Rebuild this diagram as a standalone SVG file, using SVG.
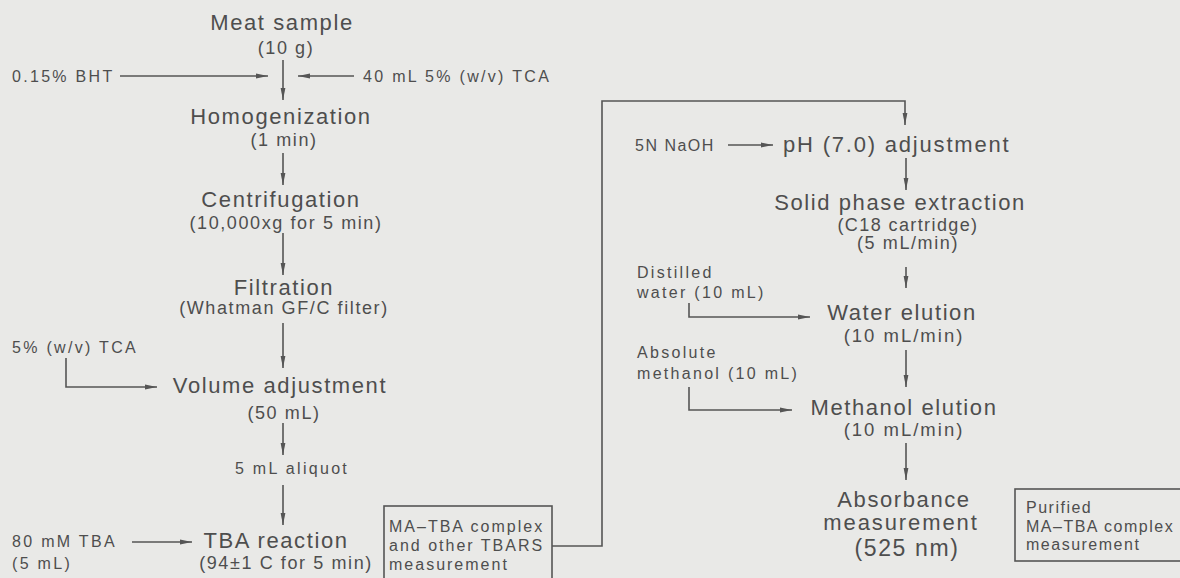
<svg xmlns="http://www.w3.org/2000/svg" width="1180" height="578" viewBox="0 0 1180 578">
<defs>
<marker id="ah" viewBox="0 0 12 6" refX="12" refY="3" markerWidth="12" markerHeight="6" markerUnits="userSpaceOnUse" orient="auto">
<path d="M0,0.6 L12,3 L0,5.4 Z" fill="#555"/>
</marker>
<style>
text{font-family:"Liberation Sans",Arial,sans-serif;fill:#4e4e4e}
.t{font-size:22px;letter-spacing:1.6px;text-anchor:middle}
.s{font-size:18px;letter-spacing:1.6px;text-anchor:middle}
.l{font-size:16px;letter-spacing:2.3px}
.c{fill:none;stroke:#555;stroke-width:1.6}
.a{marker-end:url(#ah)}
.box{fill:none;stroke:#555;stroke-width:1.6}
</style>
</defs>
<rect width="1180" height="578" fill="#e9e9e7"/>
<g id="connectors">
<line class="c a" x1="283" y1="60" x2="283" y2="100"/>
<line class="c a" x1="120" y1="76" x2="268" y2="76"/>
<line class="c a" x1="354" y1="76" x2="298" y2="76"/>
<line class="c a" x1="283" y1="153" x2="283" y2="185"/>
<line class="c a" x1="283" y1="233" x2="283" y2="275"/>
<line class="c a" x1="283" y1="323" x2="283" y2="368"/>
<path class="c a" d="M66,358 V387 H157"/>
<line class="c a" x1="283" y1="423" x2="283" y2="455"/>
<line class="c a" x1="283" y1="485" x2="283" y2="525"/>
<line class="c a" x1="132" y1="542" x2="192" y2="542"/>
<path class="c a" d="M552,546 H602 V101 H905 V125"/>
<line class="c a" x1="728" y1="145" x2="773" y2="145"/>
<line class="c a" x1="906" y1="158" x2="906" y2="190"/>
<line class="c a" x1="906" y1="267" x2="906" y2="288"/>
<path class="c a" d="M689,303 V317 H810"/>
<line class="c a" x1="906" y1="350" x2="906" y2="387"/>
<path class="c a" d="M689,387 V410 H792"/>
<line class="c a" x1="906" y1="443" x2="906" y2="480"/>
</g>
<g id="meat"><text class="t" x="282" y="30">Meat sample</text><text class="s" x="286" y="54">(10 g)</text></g>
<g id="bht"><text class="l" x="12" y="82">0.15% BHT</text></g>
<g id="tca40"><text class="l" x="363" y="82">40 mL 5% (w/v) TCA</text></g>
<g id="homog"><text class="t" x="281" y="124">Homogenization</text><text class="s" x="284" y="146">(1 min)</text></g>
<g id="centri"><text class="t" x="281" y="207">Centrifugation</text><text class="s" x="286" y="229">(10,000xg for 5 min)</text></g>
<g id="filt"><text class="t" x="284" y="295">Filtration</text><text class="s" x="284" y="314">(Whatman GF/C filter)</text></g>
<g id="tca5"><text class="l" x="12" y="353">5% (w/v) TCA</text></g>
<g id="vol"><text class="t" x="280" y="393">Volume adjustment</text><text class="s" x="284" y="419">(50 mL)</text></g>
<g id="aliquot"><text class="l" x="292" y="474" text-anchor="middle">5 mL aliquot</text></g>
<g id="tba80"><text class="l" x="12" y="547">80 mM TBA</text><text class="l" x="12" y="569">(5 mL)</text></g>
<g id="tbar"><text class="t" x="276" y="548">TBA reaction</text><text class="s" x="286" y="569">(94±1 C for 5 min)</text></g>
<g id="boxA"><rect class="box" x="384" y="506" width="168" height="80"/><text class="l" x="389" y="532" style="letter-spacing:2px">MA–TBA complex</text><text class="l" x="389" y="551" style="letter-spacing:2px">and other TBARS</text><text class="l" x="389" y="570" style="letter-spacing:2px">measurement</text></g>
<g id="naoh"><text class="l" x="635" y="151" style="letter-spacing:1.5px">5N NaOH</text></g>
<g id="ph"><text x="783" y="152" style="font-size:22px;letter-spacing:1.8px">pH (7.0) adjustment</text></g>
<g id="spe"><text class="t" x="900" y="210">Solid phase extraction</text><text class="s" x="908" y="231" style="letter-spacing:1.4px">(C18 cartridge)</text><text class="s" x="908" y="249">(5 mL/min)</text></g>
<g id="dw"><text class="l" x="637" y="278">Distilled</text><text class="l" x="637" y="298">water (10 mL)</text></g>
<g id="we"><text class="t" x="902" y="320">Water elution</text><text class="s" x="904" y="342" style="font-size:18.5px;letter-spacing:2px">(10 mL/min)</text></g>
<g id="am"><text class="l" x="637" y="358">Absolute</text><text class="l" x="637" y="379">methanol (10 mL)</text></g>
<g id="me"><text class="t" x="904" y="415">Methanol elution</text><text class="s" x="904" y="436" style="font-size:18.5px;letter-spacing:2px">(10 mL/min)</text></g>
<g id="abs"><text class="t" x="904" y="507">Absorbance</text><text class="t" x="901" y="530" style="letter-spacing:1.9px">measurement</text><text class="t" x="907" y="556" style="font-size:23px">(525 nm)</text></g>
<g id="boxB"><rect class="box" x="1015" y="489" width="180" height="72"/><text class="l" x="1026" y="513" style="letter-spacing:1.5px">Purified</text><text class="l" x="1026" y="532" style="letter-spacing:1.5px">MA–TBA complex</text><text class="l" x="1026" y="550" style="letter-spacing:1.5px">measurement</text></g>
</svg>
